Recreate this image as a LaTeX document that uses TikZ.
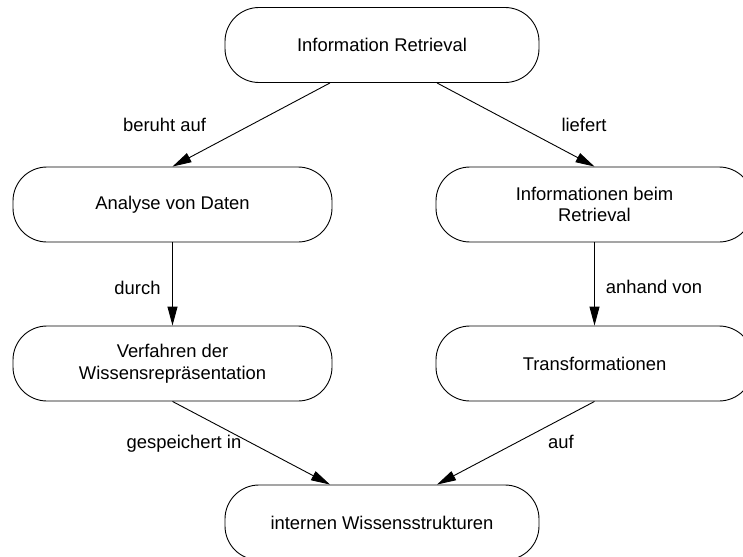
\documentclass[tikz,border=0pt]{standalone}
\usepackage{fontspec}
\setmainfont{Liberation Sans}
\usetikzlibrary{arrows.meta,calc}
\begin{document}
\begin{tikzpicture}[x=1pt,y=-1pt,
  box/.style={draw=black, line width=0.9pt, rounded corners=34pt, minimum height=75pt,
    align=center, font=\fontsize{18.4}{21.5}\selectfont, inner sep=0pt},
  lbl/.style={font=\fontsize{18.4}{21.5}\selectfont, anchor=base, inner sep=0pt},
  arr/.style={line width=0.9pt, -{Triangle[length=19pt,width=10pt]}}]
\useasboundingbox (0,0) rectangle (743,556);
\fill[white] (0,0) rectangle (743,556);
\node[box, minimum width=314pt] (ir) at (382,45) {Information Retrieval};
\node[box, minimum width=319pt] (ad) at (172.5,204.5) {Analyse von Daten};
\node[box, minimum width=317pt] (ibr) at (594.5,204.5) {Informationen beim\\Retrieval};
\node[box, minimum width=319pt] (vw) at (172.5,363.5) {Verfahren der\\Wissensrepräsentation};
\node[box, minimum width=317pt] (tf) at (594.5,363.5) {Transformationen};
\node[box, minimum width=314pt] (iw) at (382,522.5) {internen Wissensstrukturen};

\draw[arr] ($(ir.south)+(-52,0)$) -- (ad.north);
\draw[arr] ($(ir.south)+(55,0)$) -- (ibr.north);
\draw[arr] (ad.south) -- (vw.north);
\draw[arr] (ibr.south) -- (tf.north);
\draw[arr] (vw.south) -- ($(iw.north)+(-52,0)$);
\draw[arr] (tf.south) -- ($(iw.north)+(55,0)$);

\node[lbl] (l1) at (164.5,132) {beruht auf};
\node[lbl] (l2) at (584,132) {liefert};
\node[lbl] (l3) at (137.5,294) {durch};
\node[lbl] (l4) at (654,293) {anhand von};
\node[lbl] (l5) at (184,448) {gespeichert in};
\node[lbl] (l6) at (561,448) {auf};
\end{tikzpicture}
\end{document}
